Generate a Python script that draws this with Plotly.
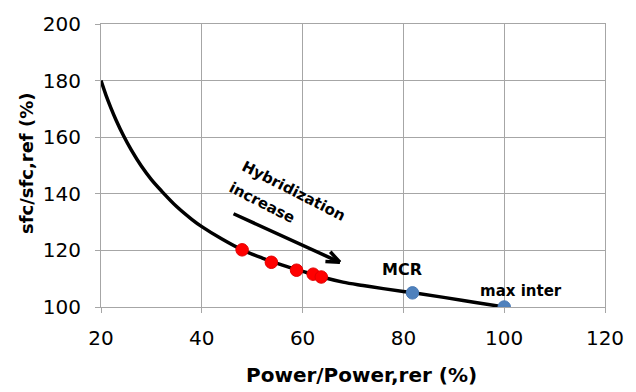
import plotly.graph_objects as go

# Curve
curve_x = [20, 21, 22, 23, 24.5, 26, 28, 30, 32, 35, 38, 40, 44, 48, 52, 56, 60, 64, 68, 72, 76, 82, 88, 94, 100]
curve_y = [180, 174.8, 170.2, 166, 160.4, 155.5, 149.8, 145, 141, 135.5, 131, 128.4, 124, 120.2,
           117.3, 114.8, 112.6, 110.5, 108.8, 107.6, 106.5, 105, 103.4, 101.7, 100]

# Hybridization points (red)
hyb_x = [48.0, 53.8, 58.8, 62.1, 63.7]
hyb_y = [120.2, 115.8, 113.0, 111.6, 110.6]

# Reference points (blue)
ref_x = [81.8, 100.0]
ref_y = [105.0, 100.0]

x_ticks = [20, 40, 60, 80, 100, 120]
y_ticks = [100, 120, 140, 160, 180, 200]

FONT = "DejaVu Sans, sans-serif"
GRID = "#A6A6A6"

fig = go.Figure()
fig.add_trace(go.Scatter(x=curve_x, y=curve_y, mode="lines",
                         line=dict(color="black", width=3.5, shape="spline", smoothing=1.0),
                         hoverinfo="skip", showlegend=False))
fig.add_trace(go.Scatter(x=hyb_x, y=hyb_y, mode="markers",
                         marker=dict(color="#FF0000", size=12.5, line=dict(color="#E00000", width=1)),
                         showlegend=False))
fig.add_trace(go.Scatter(x=ref_x, y=ref_y, mode="markers",
                         marker=dict(color="#4F81BD", size=12.5, line=dict(color="#4A7AB5", width=1)),
                         showlegend=False))

# Labels for reference points
fig.add_annotation(x=79.7, y=113.3, text="<b>MCR</b>", showarrow=False,
                   font=dict(family=FONT, size=16, color="black"))
fig.add_annotation(x=103.3, y=105.6, text="<b>max inter</b>", showarrow=False,
                   font=dict(family=FONT, size=15, color="black"))

# Arrow shaft
fig.add_annotation(x=67.4, y=115.8, ax=46.0, ay=133.2, xref="x", yref="y",
                   axref="x", ayref="y", text="", showarrow=True,
                   arrowhead=0, arrowwidth=3.5, arrowcolor="black")
# Arrow head (open chevron)
for dx, dy in [(-11, -12), (-16, -1)]:
    fig.add_annotation(x=67.4, y=115.8, ax=dx, ay=dy, text="", showarrow=True,
                       arrowhead=0, arrowwidth=3.5, arrowcolor="black")

fig.add_annotation(x=58.25, y=141.1, text="<b>Hybridization</b>", showarrow=False,
                   textangle=27, font=dict(family=FONT, size=15, color="black"))
fig.add_annotation(x=52.0, y=136.6, text="<b>increase</b>", showarrow=False,
                   textangle=27, font=dict(family=FONT, size=15, color="black"))

# Axis titles
fig.add_annotation(xref="paper", yref="paper", x=0.5166, y=-0.239,
                   xanchor="center", yanchor="middle",
                   text="<b>Power/Power,rer (%)</b>", showarrow=False,
                   font=dict(family=FONT, size=20, color="black"))
fig.add_annotation(xref="paper", yref="paper", x=-0.148, y=0.51,
                   xanchor="center", yanchor="middle",
                   text="<b>sfc/sfc,ref (%)</b>", showarrow=False, textangle=-90,
                   font=dict(family=FONT, size=18, color="black"))

axis_common = dict(showgrid=True, gridcolor=GRID, gridwidth=1,
                   showline=True, linecolor=GRID, linewidth=1, mirror=True,
                   ticks="outside", ticklen=5, tickcolor=GRID,
                   tickfont=dict(family=FONT, size=20, color="black"),
                   zeroline=False)

fig.update_xaxes(range=[20, 120], tickvals=x_ticks, ticklabelstandoff=8, **axis_common)
fig.update_yaxes(range=[100, 200], tickvals=y_ticks, ticklabelstandoff=10, **axis_common)

fig.update_layout(width=636, height=392, margin=dict(l=101, r=20, t=14, b=85),
                  plot_bgcolor="white", paper_bgcolor="white", showlegend=False)

fig.write_html("out.html")
